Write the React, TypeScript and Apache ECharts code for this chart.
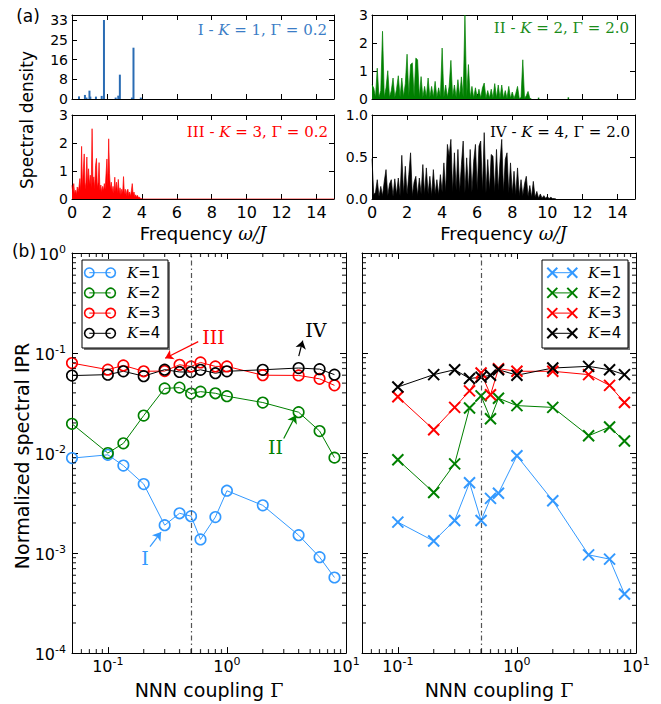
import React, { useEffect, useRef } from "react";
import * as echarts from "echarts";

// ---------------- (a) spectral densities ----------------
// Panel I : individual lines (frequency, density)
const specIFreq = [0.4, 0.74, 0.83, 1.0, 1.05, 1.37, 1.7, 1.83, 2.5, 2.65, 2.74, 3.43, 3.52, 3.94];
const specIVal = [1.1, 1.7, 0.6, 3.5, 1.0, 1.0, 1.3, 33.1, 0.6, 1.4, 10.2, 0.6, 21.5, 0.6];
const specITickLabels = ["0", "8", "16", "25", "33"];

// Panel II : sampled every 0.1 from 0
const specIIStep = 0.1;
const specIIVal = [
  0.51, 0.39, 0.06, 1.1, 0.05, 0.3, 2.42, 0.06, 0.4, 1.01,
  0.05, 0.3, 0.75, 0.05, 0.35, 0.83, 0.06, 0.75, 0.08, 0.55,
  1.6, 0.1, 1.23, 1.29, 0.08, 1.46, 1.4, 0.06, 0.8, 0.05,
  0.45, 0.06, 0.75, 0.05, 0.45, 0.06, 0.63, 0.05, 0.4, 0.07,
  1.82, 0.05, 0.5, 0.06, 0.45, 1.38, 0.06, 0.5, 0.05, 0.69,
  0.08, 0.79, 0.06, 3.0, 0.06, 1.23, 0.05, 0.45, 0.04, 0.4,
  0.05, 0.35, 0.04, 0.4, 0.57, 0.03, 0.3, 0.04, 0.35, 0.03,
  0.55, 0.04, 0.5, 0.03, 0.5, 0.03, 0.3, 0.02, 0.45, 0.03,
  0.25, 0.02, 0.2, 0.45, 0.02, 0.05, 1.4, 0.02, 0.12, 0.27,
  0.03, 0,
];
const specIIExtraFreq = [9.5, 11.2];
const specIIExtraVal = [0.05, 0.06];

// Panel III : sampled every 0.05 from 0, then flat zero to 15
const specIIIStep = 0.05;
const specIIIVal = [
  0.49, 0.2, 0.55, 0.18, 0.31, 0.15, 0.43, 0.25, 0.45, 0.73,
  0.3, 1.88, 0.4, 1.08, 1.61, 0.35, 0.6, 1.5, 0.45, 1.08,
  0.5, 0.85, 0.4, 2.51, 0.55, 0.79, 0.35, 1.2, 1.45, 0.4,
  0.6, 1.3, 0.3, 0.5, 0.25, 0.45, 0.3, 0.55, 0.35, 0.9,
  1.43, 0.45, 2.15, 0.9, 0.35, 0.6, 0.25, 0.45, 0.2, 0.78,
  0.25, 0.6, 0.2, 0.7, 0.2, 0.4, 0.15, 0.35, 0.2, 0.8,
  0.15, 0.35, 0.12, 0.3, 0.35, 0.12, 0.25, 0.1, 0.3, 0.55,
  0.15, 0.25, 0.08, 0.15, 0.06, 0.13, 0.05, 0.07, 0.03, 0.02,
  0.01, 0,
];
const specIIIEndFreq = 15;

// Panel IV : sampled every 0.1 from 0
const specIVStep = 0.1;
const specIVVal = [
  0.48, 0.05, 0.08, 0.23, 0.03, 0.15, 0.04, 0.21, 0.35, 0.04,
  0.18, 0.23, 0.03, 0.24, 0.05, 0.25, 0.04, 0.52, 0.06, 0.39,
  0.05, 0.29, 0.55, 0.04, 0.2, 0.27, 0.04, 0.25, 0.06, 0.41,
  0.05, 0.37, 0.06, 0.27, 0.04, 0.35, 0.06, 0.23, 0.05, 0.29,
  0.08, 0.43, 0.08, 0.65, 0.51, 0.71, 0.08, 0.55, 0.1, 0.59,
  0.08, 0.41, 0.69, 0.07, 0.49, 0.1, 0.59, 0.08, 0.45, 0.65,
  0.1, 0.63, 0.69, 0.09, 0.79, 0.07, 0.47, 0.1, 0.53, 0.51,
  0.08, 0.59, 0.1, 0.45, 0.71, 0.08, 0.47, 0.55, 0.07, 0.43,
  0.06, 0.33, 0.05, 0.37, 0.04, 0.23, 0.04, 0.18, 0.27, 0.03,
  0.16, 0.02, 0.21, 0.02, 0.09, 0.01, 0.06, 0.01, 0.04, 0.01,
  0.03, 0.005, 0.02, 0.005, 0.005, 0,
];

// ---------------- (b) normalized spectral IPR ----------------
const gammaLeft = [0.05, 0.1, 0.135, 0.2, 0.3, 0.4, 0.5, 0.6, 0.8, 1, 2, 4, 6, 8];
const iprLeftK1 = [0.0089, 0.0096, 0.0075, 0.0049, 0.0019, 0.0025, 0.00234, 0.00137, 0.00229, 0.0042, 0.003, 0.00151, 0.00091, 0.00057];
const iprLeftK2 = [0.0196, 0.01, 0.0125, 0.0237, 0.0443, 0.0451, 0.0393, 0.0411, 0.0396, 0.037, 0.032, 0.0256, 0.0166, 0.009];
const iprLeftK3 = [0.0793, 0.0682, 0.0752, 0.0657, 0.066, 0.0763, 0.0735, 0.0805, 0.0735, 0.0735, 0.06, 0.0597, 0.0552, 0.0475];
const iprLeftK4 = [0.0595, 0.0608, 0.0657, 0.0587, 0.0682, 0.0647, 0.0645, 0.068, 0.0628, 0.0657, 0.068, 0.0708, 0.069, 0.0608];

const gammaRight = [0.1, 0.2, 0.3, 0.4, 0.5, 0.6, 0.7, 1, 2, 4, 6, 8];
const iprRightK1 = [0.00204, 0.00132, 0.00212, 0.00505, 0.00212, 0.00352, 0.00397, 0.00938, 0.00334, 0.00096, 0.00087, 0.00039];
const iprRightK2 = [0.00857, 0.00403, 0.0078, 0.0282, 0.0373, 0.022, 0.0353, 0.0298, 0.0286, 0.0149, 0.0182, 0.0132];
const iprRightK3 = [0.0365, 0.0171, 0.0286, 0.0418, 0.0632, 0.0382, 0.0697, 0.0657, 0.0657, 0.0608, 0.0475, 0.032];
const iprRightK4 = [0.0458, 0.0608, 0.0681, 0.0556, 0.0574, 0.06, 0.0681, 0.06, 0.0708, 0.0736, 0.068, 0.0608];

const kLabels = ["1", "2", "3", "4"];
const gammaCritical = 0.5;

// annotations in data coordinates: [textX, textY, tailX, tailY, headX, headY]
const annotI = [0.205, 0.0009, 0.226, 0.00116, 0.28, 0.00162];
const annotII = [2.56, 0.0116, 3.0, 0.014, 3.79, 0.0239];
const annotIII = [0.77, 0.143, 0.574, 0.13, 0.303, 0.0888];
const annotIV = [5.58, 0.171, 4.01, 0.093, 4.33, 0.133];

// ---------------- styling ----------------
const SANS = "'DejaVu Sans', sans-serif";
const SERIF = "'DejaVu Serif', serif";
const C_BLUE_TOP = "#2a6cb4";
const C_BLUE_TOP_TXT = "#3b7dc6";
const C_BLUE = "#3399ff";
const C_GREEN = "#008000";
const C_GREEN_TXT = "#1a8c1a";
const C_RED = "#ff0000";
const C_BLACK = "#000000";
const kColors = [C_BLUE, C_GREEN, C_RED, C_BLACK];

const X_LOG_MIN = 0.05;
const X_LOG_MAX = 10;
const Y_LOG_MIN = 1e-4;
const Y_LOG_MAX = 1;

function minorLogTicks(lo: number, hi: number): number[] {
  const out: number[] = [];
  for (let e = -5; e <= 2; e++) {
    for (let m = 2; m <= 9; m++) {
      const v = m * Math.pow(10, e);
      if (v > lo * 1.0001 && v < hi * 0.9999) out.push(v);
    }
  }
  return out;
}

const powLabel = (v: number) => {
  const e = Math.log10(v);
  const r = Math.round(e);
  if (Math.abs(e - r) > 1e-6) return "";
  return `{b|10}{s|${r}}`;
};
const powRich = {
  b: { fontFamily: SANS, fontSize: 16, color: "#000", lineHeight: 18, verticalAlign: "bottom" },
  s: { fontFamily: SANS, fontSize: 11, color: "#000", lineHeight: 12, verticalAlign: "top", padding: [0, 0, 8, 0] },
};

function buildOption() {
  const grids = [
    { left: 72, top: 15, width: 262, height: 84 },
    { left: 372, top: 15, width: 263, height: 84 },
    { left: 72, top: 115, width: 262, height: 84 },
    { left: 372, top: 115, width: 263, height: 84 },
    { left: 72, top: 253, width: 274, height: 407 },
    { left: 362, top: 253, width: 274, height: 407 },
  ];
  const axisLine = { show: true, onZero: false, lineStyle: { color: "#000", width: 1 } };
  const tickStyle = { color: "#000", width: 1 };
  const xAxis: any[] = [];
  const yAxis: any[] = [];

  const freqRich = {
    a: { fontFamily: SANS, fontSize: 18, color: "#000" },
    m: { fontFamily: SERIF, fontStyle: "italic", fontSize: 18, color: "#000" },
  };
  for (let g = 0; g < 4; g++) {
    const labelled = g >= 2;
    const common = {
      type: "value", gridIndex: g, min: 0, max: 15, interval: 2,
      axisLine, splitLine: { show: false },
      axisTick: { show: true, inside: true, length: 5, lineStyle: tickStyle },
    };
    xAxis.push({
      ...common, position: "bottom",
      axisLabel: { show: labelled, showMaxLabel: false, color: "#000", fontFamily: SANS, fontSize: 16, margin: 5 },
      name: labelled ? "{a|Frequency }{m|ω/J}" : "",
      nameLocation: "middle", nameGap: 25, nameTextStyle: { rich: freqRich },
    });
    xAxis.push({ ...common, position: "top", axisLabel: { show: false } });
  }
  const ySpecs = [
    { max: 35.2, interval: 8.25, fmt: (v: number) => {
      const k = v / 8.25; const r = Math.round(k);
      return Math.abs(k - r) < 1e-6 && r < specITickLabels.length ? specITickLabels[r] : "";
    } },
    { max: 3, interval: 1, fmt: (v: number) => String(Math.round(v)) },
    { max: 3, interval: 1, fmt: (v: number) => String(Math.round(v)) },
    { max: 1, interval: 0.5, fmt: (v: number) => v.toFixed(1) },
  ];
  ySpecs.forEach((s, g) => {
    const common = {
      type: "value", gridIndex: g, min: 0, max: s.max, interval: s.interval,
      axisLine, splitLine: { show: false },
      axisTick: { show: true, inside: true, length: 5, lineStyle: tickStyle },
    };
    yAxis.push({
      ...common, position: "left",
      axisLabel: { show: true, showMaxLabel: g !== 0, color: "#000", fontFamily: SANS, fontSize: 14, lineHeight: 14, margin: 4, formatter: s.fmt },
    });
    yAxis.push({ ...common, position: "right", axisLabel: { show: false } });
  });

  const gammaRich = {
    a: { fontFamily: SANS, fontSize: 19, color: "#000" },
    g: { fontFamily: SERIF, fontSize: 19, color: "#000" },
  };
  for (let g = 4; g < 6; g++) {
    const xc = {
      type: "log", logBase: 10, gridIndex: g, min: X_LOG_MIN, max: X_LOG_MAX,
      axisLine, splitLine: { show: false }, minorTick: { show: false },
      axisTick: { show: true, inside: true, length: 6, lineStyle: tickStyle },
    };
    xAxis.push({
      ...xc, position: "bottom",
      axisLabel: { show: true, formatter: powLabel, rich: powRich, margin: 3 },
      name: "{a|NNN coupling }{g|Γ}", nameLocation: "middle", nameGap: 26,
      nameTextStyle: { rich: gammaRich },
    });
    xAxis.push({ ...xc, position: "top", axisLabel: { show: false } });
    const yc = {
      type: "log", logBase: 10, gridIndex: g, min: Y_LOG_MIN, max: Y_LOG_MAX,
      axisLine, splitLine: { show: false },
      axisTick: { show: true, inside: true, length: 6, lineStyle: tickStyle },
    };
    yAxis.push({
      ...yc, position: "left",
      axisLabel: { show: g === 4, formatter: powLabel, rich: powRich, margin: 6 },
    });
    yAxis.push({ ...yc, position: "right", axisLabel: { show: false } });
  }

  const series: any[] = [];
  // ----- (a) -----
  series.push({
    type: "bar", xAxisIndex: 0, yAxisIndex: 0, barWidth: 2,
    itemStyle: { color: C_BLUE_TOP },
    data: specIFreq.map((f, i) => [f, specIVal[i]]),
  });
  const areaLine = (xi: number, data: number[][], color: string) => ({
    type: "line", xAxisIndex: xi, yAxisIndex: xi, symbol: "none",
    lineStyle: { color, width: 0.7 }, areaStyle: { color, opacity: 1 },
    itemStyle: { color }, data,
  });
  series.push(areaLine(2, specIIVal.map((v, i) => [+(i * specIIStep).toFixed(3), v]), C_GREEN));
  series.push({
    type: "bar", xAxisIndex: 2, yAxisIndex: 2, barWidth: 1.5, itemStyle: { color: C_GREEN },
    data: specIIExtraFreq.map((f, i) => [f, specIIExtraVal[i]]),
  });
  series.push(areaLine(4, [...specIIIVal.map((v, i) => [+(i * specIIIStep).toFixed(3), v]), [specIIIEndFreq, 0]], C_RED));
  series.push(areaLine(6, specIVVal.map((v, i) => [+(i * specIVStep).toFixed(3), v]), C_BLACK));

  // ----- (b) -----
  const vLine = { xAxis: gammaCritical, lineStyle: { color: "#555", width: 1.2, type: [5, 3, 1.5, 3] } };
  const arrowLine = (a: number[], color: string) => [
    { coord: [a[2], a[3]], symbol: "none", lineStyle: { color, width: 1.2, type: "solid" } },
    { coord: [a[4], a[5]], symbol: "arrow", symbolSize: 8 },
  ];
  const annotText = (a: number[], txt: string, color: string) => ({
    symbol: "circle", symbolSize: 1, itemStyle: { color: "rgba(0,0,0,0)" },
    label: { show: true, position: "inside", formatter: txt, color, fontFamily: SERIF, fontSize: 19 },
    data: [{ coord: [a[0], a[1]] }],
  });
  const leftData = [iprLeftK1, iprLeftK2, iprLeftK3, iprLeftK4];
  const annots = [[annotI, "I"], [annotII, "II"], [annotIII, "III"], [annotIV, "IV"]] as const;
  leftData.forEach((vals, k) => {
    const c = kColors[k];
    const mlData: any[] = [arrowLine(annots[k][0] as number[], c)];
    if (k === 0) mlData.unshift(vLine);
    series.push({
      type: "line", name: "K=" + kLabels[k], xAxisIndex: 8, yAxisIndex: 8,
      symbol: "circle", symbolSize: 10.5, showAllSymbol: true,
      itemStyle: { color: "rgba(0,0,0,0)", borderColor: c, borderWidth: 1.6 },
      lineStyle: { color: c, width: 1 },
      data: gammaLeft.map((g, i) => [g, vals[i]]),
      markLine: { silent: true, symbol: ["none", "none"], label: { show: false }, data: mlData },
      markPoint: annotText(annots[k][0] as number[], annots[k][1], c),
    });
  });
  const rightData = [iprRightK1, iprRightK2, iprRightK3, iprRightK4];
  rightData.forEach((vals, k) => {
    const c = kColors[k];
    series.push({
      type: "line", name: "K=" + kLabels[k], xAxisIndex: 10, yAxisIndex: 10,
      symbol: "path://M0,0L10,10M10,0L0,10", symbolSize: 11, showAllSymbol: true,
      itemStyle: { color: c, borderColor: c, borderWidth: 2 },
      lineStyle: { color: c, width: 1 },
      data: gammaRight.map((g, i) => [g, vals[i]]),
      markLine: k === 0 ? { silent: true, symbol: ["none", "none"], label: { show: false }, data: [vLine] } : undefined,
    });
  });

  // minor ticks of the log axes, drawn as tiny rect symbols on the frame
  const mx = minorLogTicks(X_LOG_MIN, X_LOG_MAX);
  const my = minorLogTicks(Y_LOG_MIN, Y_LOG_MAX);
  const tickSeries = (ai: number, data: number[][], size: number[], offset: number[]) => ({
    type: "scatter", xAxisIndex: ai, yAxisIndex: ai, silent: true, clip: false, z: 20,
    symbol: "rect", symbolSize: size, symbolOffset: offset,
    itemStyle: { color: "#000" }, data,
  });
  [8, 10].forEach((ai) => {
    series.push(tickSeries(ai, mx.map((v) => [v, Y_LOG_MIN]), [1.2, 4], [0, -2]));
    series.push(tickSeries(ai, mx.map((v) => [v, Y_LOG_MAX]), [1.2, 4], [0, 2]));
    series.push(tickSeries(ai, my.map((v) => [X_LOG_MIN, v]), [4, 1.2], [2, 0]));
    series.push(tickSeries(ai, my.map((v) => [X_LOG_MAX, v]), [4, 1.2], [-2, 0]));
  });

  // ----- graphic: labels & legends -----
  const graphic: any[] = [];
  const txt = (x: number, y: number, text: string, style: any, extra: any = {}) => ({
    type: "text", x, y, z: 100, ...extra,
    style: { text, fill: "#000", fontFamily: SANS, fontSize: 17, align: "center", verticalAlign: "middle", ...style },
  });
  graphic.push(txt(28, 16, "(a)", {}));
  graphic.push(txt(24, 251, "(b)", {}));
  graphic.push(txt(27, 120, "Spectral density", {}, { rotation: Math.PI / 2 }));
  graphic.push(txt(22, 456, "Normalized spectral IPR", { fontSize: 19 }, { rotation: Math.PI / 2 }));

  const panelRich = (c: string) => ({
    r: { fontFamily: SERIF, fontSize: 15, fill: c },
    i: { fontFamily: SERIF, fontSize: 15, fontStyle: "italic", fill: c },
  });
  const panelLabel = (xr: number, y: number, roman: string, k: string, gam: string, c: string) =>
    txt(xr, y, `{r|${roman} - }{i|K}{r| = ${k}, Γ = ${gam}}`, { align: "right", rich: panelRich(c), fill: c });
  graphic.push(panelLabel(327, 30, "I", "1", "0.2", C_BLUE_TOP_TXT));
  graphic.push(panelLabel(629, 28, "II", "2", "2.0", C_GREEN_TXT));
  graphic.push(panelLabel(328, 132, "III", "3", "0.2", C_RED));
  graphic.push(panelLabel(630, 132, "IV", "4", "2.0", C_BLACK));

  const legRich = {
    k: { fontFamily: SERIF, fontStyle: "italic", fontSize: 15, fill: "#000" },
    e: { fontFamily: SERIF, fontSize: 15, fill: "#000" },
    n: { fontFamily: SANS, fontSize: 15, fill: "#000" },
  };
  const legend = (x0: number, y0: number, cross: boolean) => {
    const w = 86, h = 88;
    graphic.push({ type: "rect", z: 98, shape: { x: x0 + 2, y: y0 + 2, width: w, height: h }, style: { fill: "#777" } });
    graphic.push({ type: "rect", z: 99, shape: { x: x0, y: y0, width: w, height: h }, style: { fill: "#fff", stroke: "#000", lineWidth: 1 } });
    kColors.forEach((c, i) => {
      const cy = y0 + 12.7 + i * 20.2;
      const xa = x0 + (cross ? 10.3 : 7.3);
      const xb = x0 + (cross ? 30.3 : 28.7);
      graphic.push({ type: "line", z: 100, shape: { x1: xa, y1: cy, x2: xb, y2: cy }, style: { stroke: c, lineWidth: 1 } });
      [xa, xb].forEach((cx) => {
        if (cross) {
          const d = 5;
          graphic.push({ type: "line", z: 101, shape: { x1: cx - d, y1: cy - d, x2: cx + d, y2: cy + d }, style: { stroke: c, lineWidth: 2 } });
          graphic.push({ type: "line", z: 101, shape: { x1: cx - d, y1: cy + d, x2: cx + d, y2: cy - d }, style: { stroke: c, lineWidth: 2 } });
        } else {
          graphic.push({ type: "circle", z: 101, shape: { cx, cy, r: 4.7 }, style: { fill: "none", stroke: c, lineWidth: 1.6 } });
        }
      });
      graphic.push(txt(x0 + (cross ? 46 : 45), cy, `{k|K}{e|=}{n|${kLabels[i]}}`, { align: "left", rich: legRich }));
    });
  };
  legend(82, 260, false);
  legend(542, 260, true);

  return {
    animation: false,
    backgroundColor: "#fff",
    textStyle: { fontFamily: SANS },
    grid: grids,
    xAxis,
    yAxis,
    series,
    graphic,
  };
}

export default function App() {
  const ref = useRef<HTMLDivElement>(null);
  useEffect(() => {
    const chart = echarts.init(ref.current!, null, { renderer: "svg" });
    chart.setOption(buildOption() as any);
    return () => chart.dispose();
  }, []);
  return (
    <div
      ref={ref}
      style={{ position: "absolute", left: 0, top: 0, width: 661, height: 704, background: "#fff" }}
    />
  );
}
